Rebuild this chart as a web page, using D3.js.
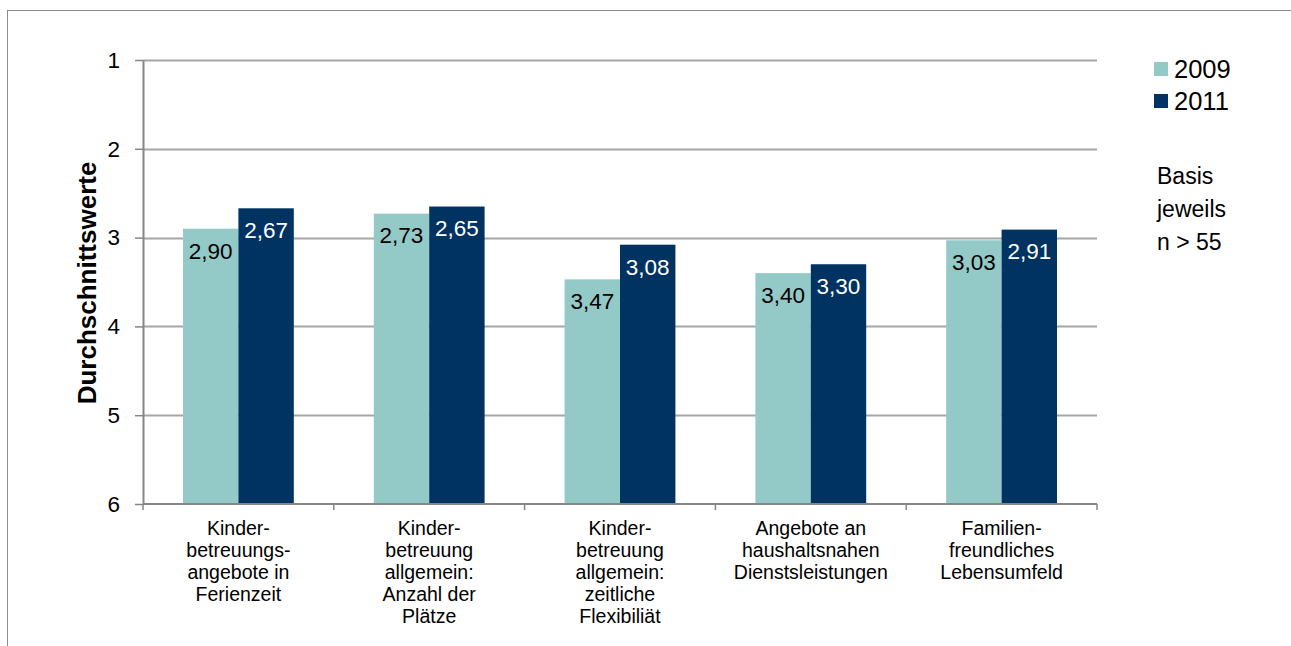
<!DOCTYPE html>
<html>
<head>
<meta charset="utf-8">
<script src="https://cdn.jsdelivr.net/npm/d3@7"></script>
<style>
body { margin: 0; background: #fff; }
text { font-family: "Liberation Sans", Arial, sans-serif; }
</style>
</head>
<body>
<div id="container"></div>
<script>
// data
var categories = [
	["Kinder-", "betreuungs-", "angebote in", "Ferienzeit"],
	["Kinder-", "betreuung", "allgemein:", "Anzahl der", "Plätze"],
	["Kinder-", "betreuung", "allgemein:", "zeitliche", "Flexibiliät"],
	["Angebote an", "haushaltsnahen", "Dienstsleistungen"],
	["Familien-", "freundliches", "Lebensumfeld"]
];
var years = ["2009", "2011"];
var values2009 = [2.90, 2.73, 3.47, 3.40, 3.03];
var values2011 = [2.67, 2.65, 3.08, 3.30, 2.91];
var yTicks = [1, 2, 3, 4, 5, 6];
var noteLines = ["Basis", "jeweils", "n > 55"];

var W = 1291, H = 646;
var margin = {top: 60, left: 143, right: 194, bottom: 142};
var plotW = W - margin.left - margin.right,
	plotH = H - margin.top - margin.bottom;

var colorMap = d3.scaleOrdinal().domain(years).range(["#93c9c7", "#003361"]);
var textColor = {"2009": "#000", "2011": "#fff"};

var svg = d3.select("#container").append("svg")
	.attr("width", W)
	.attr("height", H);

// outer frame
svg.append("rect")
	.attr("x", 7.5).attr("y", 10.5)
	.attr("width", 1300).attr("height", 660)
	.style("fill", "none").style("stroke", "#8c8c8c").style("stroke-width", 1);

var g = svg.append("g")
	.attr("transform", "translate(" + margin.left + "," + margin.top + ")");

var idx = d3.range(categories.length);
var x = d3.scaleBand().domain(idx).range([0, plotW]).paddingInner(0).paddingOuter(0);
var xInner = d3.scaleBand().domain(years).range([40, x.bandwidth() - 40]);
var y = d3.scaleLinear().domain([1, 6]).range([0, plotH]);

// gridlines
g.selectAll(".grid")
	.data(yTicks.slice(0, -1)).enter()
	.append("line")
		.attr("x1", 0).attr("x2", plotW)
		.attr("y1", function(d) { return Math.round(y(d)) + 0.5; })
		.attr("y2", function(d) { return Math.round(y(d)) + 0.5; })
		.style("stroke", "#a6a6a6").style("stroke-width", 2);

// bars
var rows = [];
idx.forEach(function(i) {
	rows.push({i: i, year: "2009", v: values2009[i]});
	rows.push({i: i, year: "2011", v: values2011[i]});
});

g.selectAll(".bar")
	.data(rows).enter()
	.append("rect")
		.attr("x", function(d) { return x(d.i) + xInner(d.year); })
		.attr("width", xInner.bandwidth())
		.attr("y", function(d) { return y(d.v); })
		.attr("height", function(d) { return plotH - y(d.v); })
		.style("fill", function(d) { return colorMap(d.year); });

g.selectAll(".val")
	.data(rows).enter()
	.append("text")
		.attr("x", function(d) { return x(d.i) + xInner(d.year) + xInner.bandwidth() / 2; })
		.attr("y", function(d) { return y(d.v) + 22; })
		.attr("dy", "0.35em")
		.style("text-anchor", "middle")
		.style("font-size", "22.5px")
		.style("fill", function(d) { return textColor[d.year]; })
		.text(function(d) { return d3.format(".2f")(d.v).replace(".", ","); });

// y axis
var yAxis = d3.axisLeft(y).tickValues(yTicks).tickFormat(d3.format("d"))
	.tickSize(8).tickSizeOuter(0).tickPadding(15);
var ya = g.append("g").call(yAxis);
ya.select(".domain").style("stroke", "#868686").style("stroke-width", 2);
ya.selectAll(".tick line").style("stroke", "#868686").style("stroke-width", 1.5);
ya.selectAll(".tick text").style("font-size", "22.5px").style("fill", "#000")
	.style("font-family", "'Liberation Sans', Arial, sans-serif");

// x axis
var xa = g.append("g").attr("transform", "translate(0," + plotH + ")");
xa.append("line").attr("x1", 0).attr("x2", plotW)
	.style("stroke", "#868686").style("stroke-width", 2);
xa.selectAll(".xtick")
	.data(d3.range(categories.length + 1)).enter()
	.append("line")
		.attr("x1", function(d) { return d < categories.length ? x(d) : plotW; })
		.attr("x2", function(d) { return d < categories.length ? x(d) : plotW; })
		.attr("y1", 0).attr("y2", 6)
		.style("stroke", "#868686").style("stroke-width", 1.5);

xa.selectAll(".catlabel")
	.data(idx).enter()
	.append("text")
		.attr("x", function(i) { return x(i) + x.bandwidth() / 2; })
		.attr("y", 31)
		.style("text-anchor", "middle")
		.style("font-size", "19.5px")
		.each(function(i) {
			var t = d3.select(this);
			categories[i].forEach(function(line, k) {
				t.append("tspan")
					.attr("x", x(i) + x.bandwidth() / 2)
					.attr("dy", k == 0 ? 0 : 22)
					.text(line);
			});
		});

// y title
svg.append("text")
	.attr("transform", "translate(96,283) rotate(-90)")
	.style("text-anchor", "middle")
	.style("font-size", "26px")
	.style("font-weight", "bold")
	.text("Durchschnittswerte");

// legend
var legend = svg.selectAll(".legend")
	.data(years).enter()
	.append("g")
		.attr("transform", function(d, i) { return "translate(1154," + (69 + i * 32) + ")"; });
legend.append("rect")
	.attr("x", 0).attr("y", -7)
	.attr("width", 14).attr("height", 14)
	.style("fill", function(d) { return colorMap(d); });
legend.append("text")
	.attr("x", 20).attr("dy", "0.36em")
	.style("font-size", "25.5px")
	.text(function(d) { return d; });

// note
svg.selectAll(".note")
	.data(noteLines).enter()
	.append("text")
		.attr("x", 1157)
		.attr("y", function(d, i) { return 176 + i * 33; })
		.attr("dy", "0.35em")
		.style("font-size", "23px")
		.text(function(d) { return d; });
</script>
</body>
</html>
